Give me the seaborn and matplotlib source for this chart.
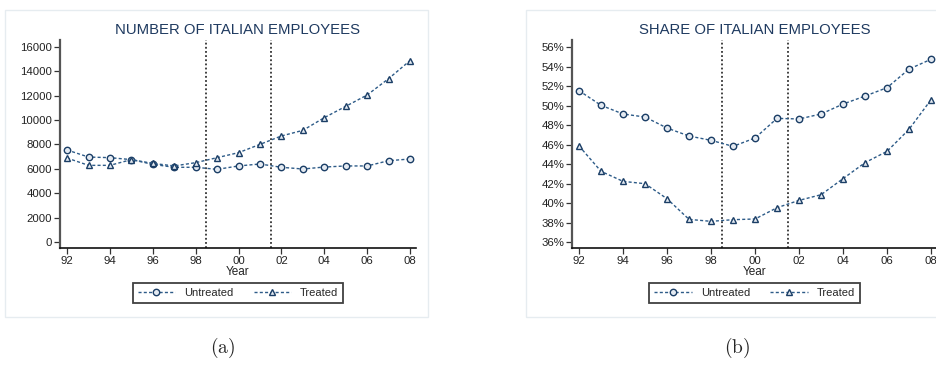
import numpy as np
import pandas as pd
import matplotlib
matplotlib.use("Agg")
import matplotlib.pyplot as plt
from matplotlib.lines import Line2D
from matplotlib.patches import Rectangle
import seaborn as sns

sns.set_theme(style="white")
plt.rcParams["font.family"] = ["Liberation Sans", "DejaVu Sans"]
plt.rcParams["mathtext.fontset"] = "cm"

years = list(range(1992, 2009))
year_labels = ["92", "94", "96", "98", "00", "02", "04", "06", "08"]

# Number of Italian employees
count_untreated = [7550, 6970, 6920, 6760, 6370, 6130, 6130, 5960, 6240, 6400,
                   6130, 5990, 6150, 6240, 6240, 6670, 6810]
count_treated = [6890, 6290, 6290, 6760, 6450, 6240, 6510, 6920, 7330, 8010,
                 8700, 9160, 10200, 11130, 12060, 13400, 14880]

# Share of Italian employees (percent)
share_untreated = [51.52, 50.02, 49.13, 48.82, 47.69, 46.87, 46.43, 45.81, 46.67,
                   48.68, 48.62, 49.13, 50.15, 50.97, 51.83, 53.74, 54.74]
share_treated = [45.85, 43.25, 42.22, 41.98, 40.44, 38.32, 38.12, 38.29, 38.36,
                 39.52, 40.27, 40.85, 42.50, 44.14, 45.30, 47.56, 50.60]

groups = ["Untreated", "Treated"]
titles = ["NUMBER OF ITALIAN EMPLOYEES", "SHARE OF ITALIAN EMPLOYEES"]
panel_tags = ["(a)", "(b)"]
reform_years = [1998.5, 2001.5]

LINE = "#2d5b88"
EDGE = "#1b3e66"
FACE = "#e4eaf1"
TITLE = "#1f3a60"
MS = 4.6

W, H = 937, 365
fig = plt.figure(figsize=(W / 100, H / 100), dpi=100)


def fx(px):
    return px / W


def fy(py):
    return 1 - py / H


def long_frame(untreated, treated):
    return pd.DataFrame({
        "Year": years * 2,
        "value": list(untreated) + list(treated),
        "group": ["Untreated"] * len(years) + ["Treated"] * len(years),
    })


panels = [
    dict(df=long_frame(count_untreated, count_treated), box=(5, 10, 428, 317),
         ax=(60, 40, 416, 248), xlim=(1991.67, 2008.28), ylim=(-492, 16574),
         yticks=np.arange(0, 16001, 2000), fmt=lambda v, p: f"{int(v)}",
         tag_x=223),
    dict(df=long_frame(share_untreated, share_treated), box=(526, 10, 945, 317),
         ax=(572, 40, 937, 248), xlim=(1991.68, 2008.27), ylim=(35.385, 56.72),
         yticks=np.arange(36, 57, 2), fmt=lambda v, p: f"{int(round(v))}%",
         tag_x=737),
]

for i, p in enumerate(panels):
    x0, y0, x1, y1 = p["box"]
    fig.patches.append(Rectangle((fx(x0), fy(y1)), fx(x1 - x0), (y1 - y0) / H,
                                 transform=fig.transFigure, fill=False,
                                 edgecolor="#e6ecf0", lw=1.0))
    l, t, r, b = p["ax"]
    ax = fig.add_axes([fx(l), fy(b), fx(r - l), (b - t) / H])
    sns.lineplot(data=p["df"], x="Year", y="value", style="group",
                 style_order=groups, markers={"Untreated": "o", "Treated": "^"},
                 dashes={"Untreated": (2.2, 1.6), "Treated": (2.2, 1.6)},
                 color=LINE, lw=1.0, markersize=MS, markeredgecolor=EDGE,
                 markerfacecolor=FACE, markeredgewidth=1.0, legend=False, ax=ax)
    for xv in reform_years:
        ax.axvline(xv, color="#333333", ls=(0, (1, 1.3)), lw=1.3, zorder=1)
    ax.set_xlim(*p["xlim"])
    ax.set_ylim(*p["ylim"])
    ax.set_xticks(years[::2])
    ax.set_xticklabels(year_labels)
    ax.set_yticks(p["yticks"])
    ax.yaxis.set_major_formatter(matplotlib.ticker.FuncFormatter(p["fmt"]))
    ax.set_ylabel("")
    ax.set_xlabel("Year", fontsize=8.5, labelpad=0.5, color="#222222")
    ax.set_title(titles[i], fontsize=10.7, color=TITLE, pad=4.5)
    for s in ["top", "right"]:
        ax.spines[s].set_visible(False)
    ax.spines["left"].set_color("#555555")
    ax.spines["left"].set_linewidth(1.6)
    ax.spines["bottom"].set_color("#111111")
    ax.spines["bottom"].set_linewidth(1.2)
    ax.tick_params(axis="both", direction="out", length=4, width=0.9,
                   color="#333333", labelsize=8.2, labelcolor="#222222", pad=1.5,
                   left=True, bottom=True)
    ax.set_facecolor("white")
    ax.grid(False)

    handles = [Line2D([], [], color=LINE, lw=1.0, ls=(0, (2.2, 1.6)), marker=m,
                      markersize=MS, markeredgecolor=EDGE, markerfacecolor=FACE,
                      markeredgewidth=1.0) for m in ["o", "^"]]
    cx = (l + r) / 2 if i == 0 else 754.5
    leg = fig.legend(handles, groups, loc="center", ncol=2,
                     bbox_to_anchor=(fx(cx), fy(293)), fontsize=8,
                     frameon=True, fancybox=False, edgecolor="#111111",
                     handlelength=3.4, columnspacing=1.8, handletextpad=0.8,
                     borderpad=0.45)
    leg.get_frame().set_linewidth(1.3)

    fig.text(fx(p["tag_x"]), fy(348), r"$\mathrm{" + panel_tags[i] + "}$",
             ha="center", va="center", fontsize=14)

fig.savefig("out.png", dpi=100, facecolor="white")
